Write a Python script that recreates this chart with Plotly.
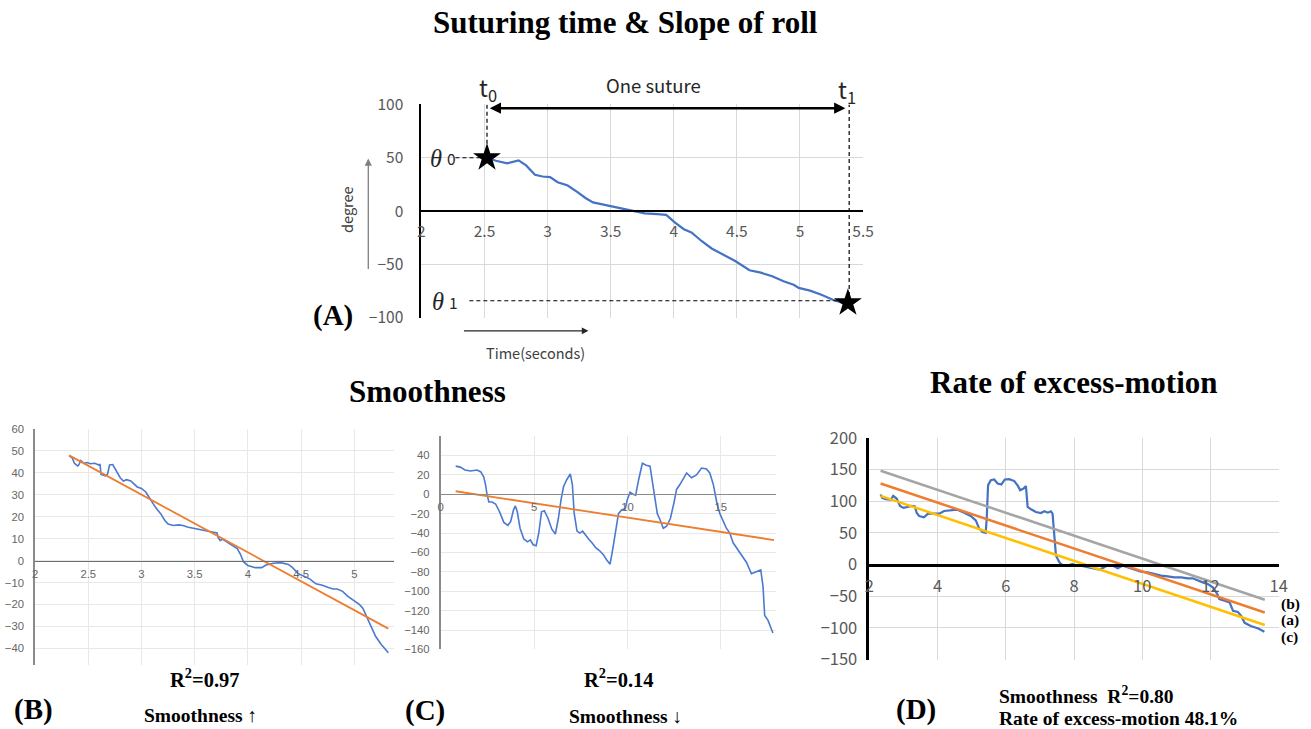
import plotly.graph_objects as go

# ---------------- data ----------------
# (A) one suture: roll angle vs time
A_t = [2.52, 2.59, 2.68, 2.77, 2.83, 2.90, 2.96, 3.02, 3.08, 3.16, 3.24, 3.30, 3.36, 3.45, 3.51,
       3.61, 3.69, 3.77, 3.87, 3.94, 4.01, 4.08, 4.14, 4.22, 4.30, 4.39, 4.49, 4.60, 4.69, 4.78,
       4.87, 4.95, 4.99, 5.08, 5.17, 5.26, 5.34]
A_roll = [50, 47.2, 44.7, 47.5, 42.8, 34, 32.4, 31.8, 27, 24, 17.6, 12.3, 8.2, 6, 4,
          2, -0.3, -2.2, -2.8, -3.5, -10.7, -17, -20, -28, -35, -40.6, -47, -55.4, -57.7, -61,
          -65.7, -69, -72, -74.5, -78.3, -83, -86]
STAR_t = [2.52, 5.38]          # t0, t1
STAR_deg = [50, -86]           # theta0, theta1
ARROW_deg = 96.5

# (B) smooth suture
B_t = [2.32, 2.35, 2.37, 2.40, 2.41, 2.43, 2.46, 2.49, 2.52, 2.56, 2.60, 2.61, 2.62, 2.66, 2.68,
       2.70, 2.73, 2.75, 2.78, 2.80, 2.83, 2.86, 2.90, 2.93, 2.96, 3.00, 3.04, 3.07, 3.10, 3.13,
       3.18, 3.22, 3.25, 3.30, 3.35, 3.39, 3.44, 3.49, 3.55, 3.61, 3.68, 3.71, 3.72, 3.74, 3.76,
       3.80, 3.85, 3.90, 3.93, 3.96, 4.00, 4.07, 4.13, 4.17, 4.24, 4.31, 4.38, 4.42, 4.47, 4.52,
       4.58, 4.64, 4.70, 4.75, 4.80, 4.84, 4.89, 4.94, 5.00, 5.05, 5.08, 5.11, 5.16, 5.20, 5.25, 5.32]
B_roll = [47.9, 46.7, 44.4, 43.2, 43.6, 45.6, 44.4, 44.7, 44.2, 44.4, 43.6, 44.0, 39.3, 38.7, 39.3,
          43.6, 43.8, 42.1, 39.0, 37.8, 36.3, 36.9, 36.3, 34.7, 33.6, 32.9, 31.3, 29.0, 26.7, 24.4,
          21.4, 18.3, 16.7, 16.0, 16.3, 16.0, 15.2, 14.7, 14.0, 13.7, 12.9, 12.6, 10.6, 9.1, 9.8,
          8.6, 6.8, 5.5, 2.9, -0.6, -2.2, -3.2, -3.2, -2.0, -1.2, -0.9, -1.7, -3.2, -5.8, -7.1,
          -8.3, -10.6, -11.2, -12.1, -12.9, -12.9, -14.0, -16.3, -18.3, -20.1, -21.7, -25.0, -30.0, -34.5, -38.0, -42.0]
B_fit_t = [2.32, 5.32]
B_fit = [48.0, -31.0]

# (C) unsmooth suture
C_t = [0.80, 1.05, 1.30, 1.60, 1.95, 2.15, 2.30, 2.40, 2.48, 2.58, 2.75, 2.94, 3.15, 3.38, 3.60,
       3.75, 3.90, 4.00, 4.10, 4.25, 4.45, 4.65, 4.80, 4.95, 5.11, 5.25, 5.40, 5.55, 5.75, 5.95,
       6.14, 6.30, 6.45, 6.58, 6.75, 6.94, 7.05, 7.15, 7.30, 7.45, 7.60, 7.75, 7.92, 8.10, 8.30,
       8.50, 8.70, 8.90, 9.07, 9.20, 9.35, 9.52, 9.70, 9.88, 10.00, 10.14, 10.30, 10.44, 10.60, 10.80,
       11.00, 11.21, 11.40, 11.60, 11.74, 11.92, 12.10, 12.30, 12.50, 12.63, 12.81, 13.00, 13.17, 13.43, 13.70,
       13.97, 14.23, 14.41, 14.60, 14.80, 14.95, 15.30, 15.48, 15.66, 16.01, 16.37, 16.64, 16.90, 17.14, 17.26,
       17.35, 17.53, 17.79]
C_roll = [29, 28, 25, 24, 25, 23, 18, 10, 0, -8, -8, -10, -18, -29, -32,
          -28, -16, -12, -18, -35, -46, -49, -47, -52, -53, -40, -18, -17, -25, -36,
          -41, -25, -5, 8, 15, 21, 10, -20, -38, -40, -38, -42, -46, -50, -55,
          -58, -62, -68, -72, -58, -40, -20, -16, -15, -5, 2, 0, -1, 15, 32,
          30, 29, 5, -20, -26, -35, -33, -25, -8, 5, 10, 17, 22, 17, 20,
          27, 26, 22, 10, -10, -20, -35, -40, -50, -60, -70, -82, -80, -78, -95,
          -125, -130, -143]
C_fit_t = [0.80, 17.85]
C_fit = [3.1, -47.2]

# (D) excess motion
D_t = [2.33, 2.38, 2.48, 2.63, 2.70, 2.80, 2.90, 3.00, 3.12, 3.23, 3.33, 3.39, 3.46, 3.60, 3.72,
       3.90, 4.05, 4.19, 4.39, 4.58, 4.78, 4.97, 5.12, 5.22, 5.32, 5.41, 5.44, 5.48, 5.56, 5.66,
       5.76, 5.87, 5.97, 6.10, 6.25, 6.36, 6.42, 6.52, 6.59, 6.64, 6.74, 6.88, 7.03, 7.13, 7.23,
       7.32, 7.37, 7.42, 7.47, 7.57, 7.67, 7.81, 7.96, 8.06, 8.20, 8.40, 8.60, 8.74, 8.89, 8.99,
       9.13, 9.28, 9.43, 9.57, 9.77, 9.96, 10.16, 10.36, 10.55, 10.75, 10.94, 11.14, 11.33, 11.48, 11.63,
       11.77, 11.92, 12.07, 12.20, 12.26, 12.41, 12.56, 12.66, 12.80, 12.90, 13.00, 13.18, 13.40, 13.58]
D_roll = [110.8, 105.5, 103.3, 102.8, 108.6, 104.4, 92.7, 89.6, 91.1, 92.7, 92.2, 81.6, 76.8, 74.7, 80.6,
          81.1, 80.6, 84.8, 85.3, 86.9, 82.1, 76.8, 70.0, 56.7, 51.4, 50.3, 72.6, 125.6, 133.5, 134.6,
          128.2, 126.7, 134.6, 135.1, 132.0, 124.0, 117.6, 120.3, 124.0, 91.1, 87.4, 83.2, 81.6, 84.3, 82.1,
          84.3, 80.6, 40.8, 14.3, 3.7, -1.6, -1.6, 1.1, -1.6, -1.6, -4.2, -6.9, -7.9, -4.2, -0.5,
          -1.6, -5.8, -1.6, -4.2, -6.9, -11.1, -12.2, -14.8, -17.5, -18.5, -20.1, -20.1, -21.7, -21.7, -25.4,
          -28.1, -30.7, -36.0, -46.6, -54.6, -57.2, -59.9, -73.1, -74.7, -81.1, -92.0, -97.0, -101.0, -106.0]
D_fit_t = [2.33, 13.59]
D_fit_b = [148.4, -55.5]   # gray
D_fit_a = [128.2, -75.6]   # orange
D_fit_c = [108.6, -95.5]   # yellow

# ---------------- layout helpers ----------------
W, H = 1318, 740
# observed mapping between page pixels and the photographed picture
PX0, PY0, SX, SY = 4.3, 14.8, 0.9917, 0.9656
SERIF = "Liberation Serif"
SANS_JP = "Noto Sans CJK JP"
SANS = "Liberation Sans"


def dx(p):
    return ((p - PX0) / SX) / W


def dy(p):
    return 1 - ((p - PY0) / SY) / H


def zero_pos(dom, rng):
    return dom[0] + (0 - rng[0]) / (rng[1] - rng[0]) * (dom[1] - dom[0])


BLUE = "#4472C4"
BLUE2 = "#4a79d1"
ORANGE = "#ED7D31"
GRAY = "#A5A5A5"
YELLOW = "#FFC000"

fig = go.Figure()

# A
fig.add_trace(go.Scatter(x=A_t, y=A_roll, mode="lines", line=dict(color=BLUE, width=2.2),
                         xaxis="x", yaxis="y"))
fig.add_trace(go.Scatter(x=STAR_t, y=STAR_deg, mode="markers", cliponaxis=False,
                         marker=dict(symbol="star", size=21, color="black"), xaxis="x", yaxis="y"))
# B
fig.add_trace(go.Scatter(x=B_t, y=B_roll, mode="lines", line=dict(color=BLUE2, width=1.6),
                         xaxis="x2", yaxis="y2"))
fig.add_trace(go.Scatter(x=B_fit_t, y=B_fit, mode="lines", line=dict(color=ORANGE, width=1.8),
                         xaxis="x2", yaxis="y2"))
# C
fig.add_trace(go.Scatter(x=C_t, y=C_roll, mode="lines", line=dict(color=BLUE2, width=1.6),
                         xaxis="x3", yaxis="y3"))
fig.add_trace(go.Scatter(x=C_fit_t, y=C_fit, mode="lines", line=dict(color=ORANGE, width=1.8),
                         xaxis="x3", yaxis="y3"))
# D
fig.add_trace(go.Scatter(x=D_t, y=D_roll, mode="lines", line=dict(color=BLUE, width=2.2),
                         xaxis="x4", yaxis="y4"))
for ys, col in [(D_fit_b, GRAY), (D_fit_a, ORANGE), (D_fit_c, YELLOW)]:
    fig.add_trace(go.Scatter(x=D_fit_t, y=ys, mode="lines", line=dict(color=col, width=2.5),
                             xaxis="x4", yaxis="y4"))

# axes (positions given in picture pixels)
A_xr, A_yr = [2, 5.5], [-100, 100]
A_xd, A_yd = [dx(422.3), dx(865.7)], [dy(319), dy(106)]
B_xr, B_yr = [2, 5.375], [-47.6, 60]
B_xd, B_yd = [dx(34.5), dx(395)], [dy(665.5), dy(430)]
C_xr, C_yr = [0, 17.94], [-160, 60]
C_xd, C_yd = [dx(441.7), dx(778)], [dy(650), dy(437)]
D_xr, D_yr = [2, 14], [-150, 200]
D_xd, D_yd = [dx(872), dx(1283)], [dy(660), dy(439)]

excel_font = dict(family=SANS_JP, size=15.5, color="#595959")
excel_font_d = dict(family=SANS_JP, size=16.5, color="#595959")
sheet_font = dict(family=SANS, size=11.3, color="#666666")

common = dict(ticks="", zeroline=False, showgrid=True, fixedrange=True)

layout_axes = dict(
    xaxis=dict(domain=A_xd, range=A_xr, dtick=0.5, tick0=2, anchor="free",
               position=zero_pos(A_yd, A_yr), showline=True, linecolor="black", linewidth=2,
               gridcolor="#d9d9d9", tickfont=excel_font, ticklabelstandoff=6, **common),
    yaxis=dict(domain=A_yd, range=A_yr, dtick=50, anchor="x", showline=True, linecolor="black",
               linewidth=2, gridcolor="#d9d9d9", tickfont=excel_font, ticklabelstandoff=13, **common),
    xaxis2=dict(domain=B_xd, range=B_xr, dtick=0.5, tick0=2, anchor="free",
                position=zero_pos(B_yd, B_yr), showline=True, linecolor="#6e6e6e", linewidth=1.3,
                gridcolor="#e8e8e8", tickfont=sheet_font, ticklabelstandoff=3, **common),
    yaxis2=dict(domain=B_yd, range=B_yr, dtick=10, anchor="x2", showline=True, linecolor="#8a8a8a",
                linewidth=1.6, gridcolor="#e8e8e8", tickfont=sheet_font, ticklabelstandoff=7, **common),
    xaxis3=dict(domain=C_xd, range=C_xr, dtick=5, tick0=0, anchor="free",
                position=zero_pos(C_yd, C_yr), showline=True, linecolor="#8a8a8a", linewidth=1.3,
                gridcolor="#e8e8e8", tickfont=sheet_font, ticklabelstandoff=2, **common),
    yaxis3=dict(domain=C_yd, range=C_yr, tickvals=list(range(-160, 60, 20)), anchor="x3",
                showline=True, linecolor="#8a8a8a", linewidth=1.6, gridcolor="#e8e8e8",
                tickfont=sheet_font, ticklabelstandoff=7, **common),
    xaxis4=dict(domain=D_xd, range=D_xr, dtick=2, tick0=2, anchor="free",
                position=zero_pos(D_yd, D_yr), showline=True, linecolor="black", linewidth=2.5,
                gridcolor="#d9d9d9", tickfont=excel_font_d, ticklabelstandoff=6, **common),
    yaxis4=dict(domain=D_yd, range=D_yr, dtick=50, anchor="x4", showline=True, linecolor="black",
                linewidth=2.5, gridcolor="#d9d9d9", tickfont=excel_font_d, ticklabelstandoff=6, **common),
)


def txt(x, y, s, size, family=SERIF, color="black", xanchor="center", angle=0):
    return dict(x=dx(x), y=dy(y), xref="paper", yref="paper", text=s, showarrow=False,
                font=dict(family=family, size=size, color=color), xanchor=xanchor,
                yanchor="middle", textangle=angle)


ann = [
    txt(627, 24, "<b>Suturing time &amp; Slope of roll</b>", 31),
    txt(428, 393, "<b>Smoothness</b>", 31),
    txt(1077, 384, "<b>Rate of excess-motion</b>", 31),
    txt(334, 317, "<b>(A)</b>", 29),
    txt(33, 710, "<b>(B)</b>", 29),
    txt(426, 711, "<b>(C)</b>", 29),
    txt(919, 710, "<b>(D)</b>", 29),
    txt(205, 678, "<b>R<sup>2</sup>=0.97</b>", 20.5),
    txt(201, 716, "<b>Smoothness ↑</b>", 19.5),
    txt(621, 678, "<b>R<sup>2</sup>=0.14</b>", 20.5),
    txt(627, 717, "<b>Smoothness ↓</b>", 19.5),
    txt(1000, 695, "<b>Smoothness&nbsp;&nbsp;R<sup>2</sup>=0.80</b>", 19.5, xanchor="left"),
    txt(1000, 719, "<b>Rate of excess-motion 48.1%</b>", 19.5, xanchor="left"),
    txt(1283, 605, "<b>(b)</b>", 15.5, xanchor="left"),
    txt(1283, 621, "<b>(a)</b>", 15.5, xanchor="left"),
    txt(1283, 638, "<b>(c)</b>", 15.5, xanchor="left"),
    txt(655, 87, "One suture", 18.5, family=SANS_JP, color="#262626"),
    txt(489, 90, "t<sub>0</sub>", 23.5, family=SANS_JP, color="#262626"),
    txt(850, 92, "t<sub>1</sub>", 23.5, family=SANS_JP, color="#262626"),
    txt(437, 160, "<i>θ</i>", 24.5, family=SERIF, color="#262626"),
    txt(453, 160, "0", 15.5, family=SANS_JP, color="#262626"),
    txt(439, 303, "<i>θ</i>", 24.5, family=SERIF, color="#262626"),
    txt(455, 303, "1", 15.5, family=SANS_JP, color="#262626"),
    txt(347, 211, "degree", 14.5, family=SANS_JP, color="#404040", angle=-90),
    txt(537, 354, "Time(seconds)", 14.5, family=SANS_JP, color="#404040"),
    # double-headed arrow "One suture"
    dict(x=STAR_t[1] - 0.02, y=ARROW_deg, xref="x", yref="y", ax=STAR_t[0] + 0.01, ay=ARROW_deg,
         axref="x", ayref="y", text="", showarrow=True, arrowhead=2, startarrowhead=2,
         arrowside="end+start", arrowwidth=2.5, arrowsize=0.9, startarrowsize=0.9,
         arrowcolor="black", standoff=0, startstandoff=0),
    # up arrow next to "degree"
    dict(x=dx(369), y=dy(160), xref="paper", yref="paper", ax=0, ay=112, text="", showarrow=True,
         arrowhead=2, arrowwidth=1.3, arrowsize=1.1, arrowcolor="#7f7f7f"),
    # right arrow above "Time(seconds)"
    dict(x=dx(590), y=dy(332), xref="paper", yref="paper", ax=-126, ay=0, text="", showarrow=True,
         arrowhead=2, arrowwidth=1.1, arrowsize=1.2, arrowcolor="#262626"),
]

dash = dict(color="black", width=1.2, dash="4px,3px")
shapes = [
    dict(type="line", xref="x", yref="y", x0=STAR_t[0], x1=STAR_t[0], y0=STAR_deg[0], y1=100, line=dash),
    dict(type="line", xref="x", yref="y", x0=STAR_t[1] + 0.01, x1=STAR_t[1] + 0.01, y0=STAR_deg[1], y1=100, line=dash),
    dict(type="line", xref="x", yref="y", x0=2.27, x1=STAR_t[0], y0=STAR_deg[0], y1=STAR_deg[0], line=dash),
    dict(type="line", xref="x", yref="y", x0=2.38, x1=STAR_t[1], y0=-84, y1=-84, line=dash),
]

fig.update_layout(
    width=W, height=H, margin=dict(l=0, r=0, t=0, b=0),
    paper_bgcolor="white", plot_bgcolor="white", showlegend=False,
    annotations=ann, shapes=shapes, **layout_axes,
)

page_fix = """
document.documentElement.style.margin='0';
document.documentElement.style.overflow='hidden';
document.body.style.margin='0';
document.body.style.overflow='hidden';
var gd = document.querySelector('.plotly-graph-div');
gd.style.position='fixed';
gd.style.left='0px';
gd.style.top='0px';
"""

fig.write_html("out.html", config={"displayModeBar": False}, post_script=page_fix)
